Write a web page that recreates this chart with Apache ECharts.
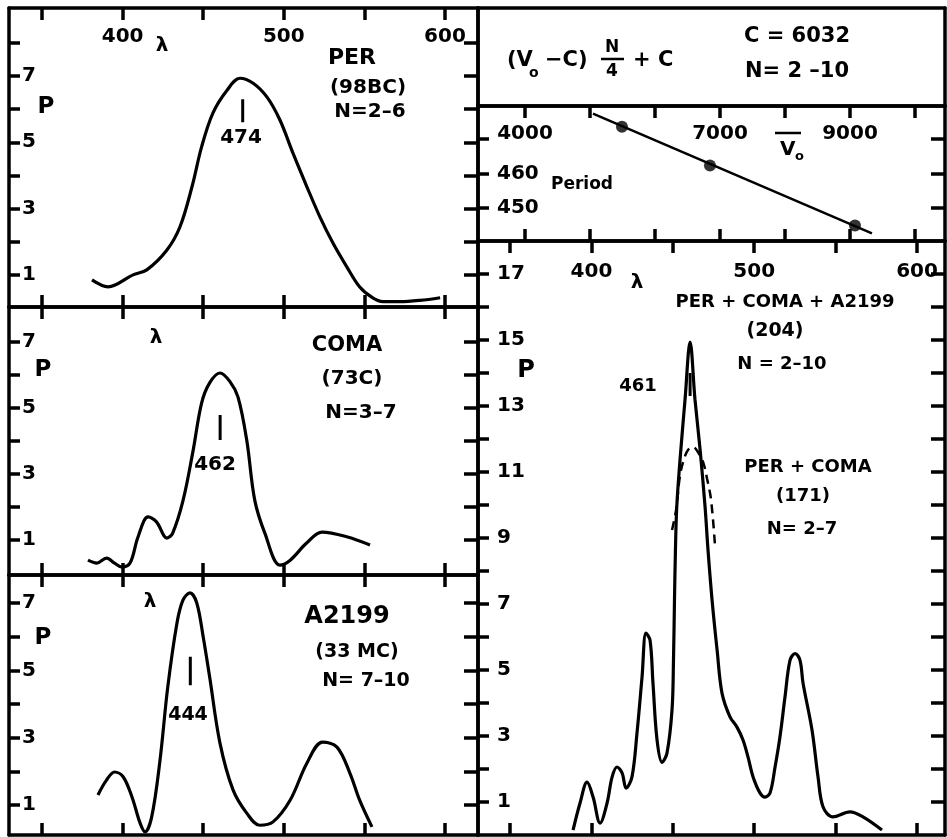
<!DOCTYPE html>
<html>
<head>
<meta charset="utf-8">
<script src="https://cdn.jsdelivr.net/npm/echarts@6/dist/echarts.min.js"></script>
<style>
  html, body { margin: 0; padding: 0; background: #fff; }
  #chart { width: 947px; height: 837px; }
</style>
</head>
<body>
<div id="chart"></div>
<script>
// ==== values ====
// PER (98BC), N=2-6
var perLambda = [381, 391, 406.5, 415, 427.5, 435.6, 443, 449, 456, 464.8, 472.8, 481, 489.6, 497.6, 505.7, 514.4, 522.4, 530.5, 539, 547, 555, 561.5, 572, 584.5, 597];
var perP = [0.85, 0.64, 1.0, 1.15, 1.75, 2.45, 3.65, 4.86, 5.88, 6.57, 6.93, 6.78, 6.36, 5.67, 4.67, 3.65, 2.75, 1.96, 1.25, 0.64, 0.31, 0.19, 0.19, 0.23, 0.31];
// COMA (73C), N=3-7
var comaLambda = [378.5, 384, 390, 395, 399.6, 404.6, 409.6, 415.8, 421, 427.5, 431, 437.5, 443.7, 449, 454, 460.4, 466.6, 471.6, 477, 482, 488.3, 497.6, 504, 514, 523.7, 539, 553.5];
var comaP = [0.39, 0.3, 0.45, 0.3, 0.18, 0.3, 1.1, 1.7, 1.55, 1.06, 1.2, 2.2, 3.7, 5.15, 5.76, 6.06, 5.8, 5.33, 4.03, 2.2, 1.2, 0.24, 0.39, 0.9, 1.24, 1.1, 0.85];
// A2199 (33 MC), N=7-10
var a2199Lambda = [384.7, 390, 395, 400.3, 405.8, 410.8, 413.9, 418, 423, 428, 433.7, 437.5, 441.8, 446, 450, 454, 460.4, 468.5, 477, 485, 493.3, 504, 514.4, 524, 533, 541, 547, 554.7];
var a2199P = [1.3, 1.74, 1.98, 1.84, 1.24, 0.47, 0.2, 0.64, 2.25, 4.5, 6.4, 7.09, 7.3, 7.0, 5.99, 4.8, 2.84, 1.45, 0.76, 0.4, 0.5, 1.15, 2.25, 2.87, 2.72, 1.95, 1.15, 0.35];
// PER + COMA + A2199 (204), N=2-10
var sumLambda = [388.7, 393, 397.3, 401, 405.3, 409.6, 412.7, 415.7, 418.8, 421.3, 424.9, 428, 431.1, 433.5, 436, 437.8, 440.3, 443.4, 446.4, 449.5, 450.4, 451, 451.6, 452.4, 454.4, 457.5, 460.6, 463.6, 466.7, 469.8, 471.6, 474.1, 477.2, 480.2, 485.1, 489.4, 493.1, 496.2, 499.3, 503.6, 506.6, 509.7, 512.8, 515.8, 518.9, 522, 525.1, 528.1, 530, 535.5, 539.2, 542.3, 548.4, 558.8, 566.8, 578.5];
var sumP = [0.15, 0.97, 1.6, 1.15, 0.36, 0.97, 1.76, 2.06, 1.88, 1.42, 1.76, 3.1, 4.8, 6.12, 5.9, 4.6, 2.88, 2.2, 2.48, 3.79, 5.3, 7.1, 8.64, 9.94, 11.36, 13.2, 14.94, 13.2, 11.7, 9.94, 8.64, 7.12, 5.6, 4.3, 3.58, 3.27, 2.88, 2.36, 1.76, 1.27, 1.15, 1.27, 2.06, 2.97, 4.18, 5.3, 5.5, 5.3, 4.6, 3.18, 1.76, 0.85, 0.55, 0.7, 0.55, 0.15];
// PER + COMA (171), N=2-7, dashed
var perComaLambda = [449.5, 452, 454.4, 456.9, 459.3, 462.4, 465.5, 468.6, 471, 473.5, 476];
var perComaP = [9.24, 9.85, 10.9, 11.4, 11.67, 11.76, 11.6, 11.3, 10.8, 10.15, 8.7];

// peak markers
var peakText = ['474', '462', '444', '461'];
var peakLambda = [474.5, 460.5, 442, 460.6];
var peakLow = [5.6, 4.03, 4.56, 13.3];
var peakHigh = [6.3, 4.79, 5.4, 14.0];

// period against mean velocity
var v0Points = [5492, 6846, 9077];
var periodPoints = [473.6, 462.3, 444.9];
var fitV0 = [5046, 9338];
var fitPeriod = [477.4, 442.6];

// ticks and tick labels
var lambdaTicks = [350, 400, 450, 500, 550, 600];
var lambdaLabels = [400, 500, 600];
var pTicksPer = [1, 2, 3, 4, 5, 6, 7, 8];
var pTicks = [1, 2, 3, 4, 5, 6, 7];
var pLabels = [1, 3, 5, 7];
var sumTicks = [1, 2, 3, 4, 5, 6, 7, 8, 9, 10, 11, 12, 13, 14, 15, 16, 17];
var sumLabels = [1, 3, 5, 7, 9, 11, 13, 15, 17];
var v0Ticks = [4000, 5000, 6000, 7000, 8000, 9000, 10000];
var v0Labels = [4000, 7000, 9000];
var periodTicks = [450, 460, 470];
var periodLabels = [450, 460];

var FONT = 'DejaVu Sans';
var chart = echarts.init(document.getElementById('chart'), null, { renderer: 'canvas' });

var grids = [
  { left: 9, top: 8, width: 469, height: 299 },     // PER
  { left: 9, top: 307, width: 469, height: 268 },   // COMA
  { left: 9, top: 575, width: 469, height: 260 },   // A2199
  { left: 478, top: 8, width: 467, height: 98 },    // formula box
  { left: 478, top: 106, width: 467, height: 135 }, // V0 - period
  { left: 478, top: 241, width: 467, height: 594 }  // sums
];

var xAxes = [], yAxes = [];
function axisLine() {
  return { show: true, onZero: false, lineStyle: { color: '#000', width: 3.5 } };
}
function ticks(values, len) {
  if (!values) return { show: false };
  return { show: true, inside: true, length: len, customValues: values, lineStyle: { color: '#000', width: 3.5 } };
}
function labels(values, margin) {
  if (!values) return { show: false };
  return {
    show: true, inside: true, margin: margin, customValues: values,
    color: '#000', fontFamily: FONT, fontWeight: 'bold', fontSize: 20,
    formatter: function (v) { return String(v); }
  };
}
// each panel: xAxis 2g bottom, 2g+1 top; yAxis 2g left, 2g+1 right
function panel(g, xr, yr, xt, yt, o) {
  o = o || {};
  var base = { type: 'value', gridIndex: g, min: xr[0], max: xr[1], splitLine: { show: false } };
  xAxes.push(Object.assign({}, base, { position: 'bottom', axisLine: axisLine(), axisTick: ticks(xt, 12), axisLabel: { show: false } }));
  xAxes.push(Object.assign({}, base, { position: 'top', axisLine: axisLine(), axisTick: ticks(xt, 12), axisLabel: labels(o.xl, o.xm) }));
  var ybase = { type: 'value', gridIndex: g, min: yr[0], max: yr[1], splitLine: { show: false } };
  yAxes.push(Object.assign({}, ybase, { position: 'left', axisLine: axisLine(), axisTick: ticks(yt, 11), axisLabel: labels(o.yl, o.ym) }));
  yAxes.push(Object.assign({}, ybase, { position: 'right', axisLine: axisLine(), axisTick: ticks(yt, 14), axisLabel: { show: false } }));
}

panel(0, [329.5, 620.5], [0.03, 9.05], lambdaTicks, pTicksPer, { xl: lambdaLabels, xm: 19, yl: pLabels, ym: 13 });
panel(1, [329.5, 620.5], [-0.06, 8.06], lambdaTicks, pTicks, { yl: pLabels, ym: 13 });
panel(2, [329.5, 620.5], [0.11, 7.83], lambdaTicks, pTicks, { yl: pLabels, ym: 13 });
panel(3, [0, 1], [0, 1], null, null);
panel(4, [3277, 10462], [440.4, 479.6], v0Ticks, periodTicks, { xl: v0Labels, xm: 18, yl: periodLabels, ym: 19 });
panel(5, [330.3, 617.2], [0, 18], lambdaTicks, sumTicks, { xl: lambdaLabels, xm: 21, yl: sumLabels, ym: 19 });

function zip(a, b) { return a.map(function (v, i) { return [v, b[i]]; }); }
function curve(g, xs, ys, dashed) {
  return {
    type: 'line', xAxisIndex: 2 * g, yAxisIndex: 2 * g, data: zip(xs, ys),
    symbol: 'none', smooth: 0.35, silent: true, z: 3,
    lineStyle: { color: '#000', width: dashed ? 2.5 : 3.2, type: dashed ? [9, 6] : 'solid' }
  };
}

var series = [
  curve(0, perLambda, perP),
  curve(1, comaLambda, comaP),
  curve(2, a2199Lambda, a2199P),
  curve(5, sumLambda, sumP),
  curve(5, perComaLambda, perComaP, true),
  {
    type: 'line', xAxisIndex: 8, yAxisIndex: 8, data: zip(fitV0, fitPeriod),
    symbol: 'none', silent: true, lineStyle: { color: '#000', width: 2.5 }
  },
  {
    type: 'scatter', xAxisIndex: 8, yAxisIndex: 8, data: zip(v0Points, periodPoints),
    symbol: 'circle', symbolSize: 12, silent: true, itemStyle: { color: '#000' }
  }
];
var peakGrid = [0, 1, 2, 5];
peakGrid.forEach(function (g, i) {
  series.push({
    type: 'line', xAxisIndex: 2 * g, yAxisIndex: 2 * g,
    data: [[peakLambda[i], peakLow[i]], [peakLambda[i], peakHigh[i]]],
    symbol: 'none', silent: true, lineStyle: { color: '#000', width: 3 }
  });
});

function txt(x, y, s, size, align) {
  return {
    type: 'text', x: x, y: y, silent: true, z: 10,
    style: { text: s, fontSize: size, fontFamily: FONT, fontWeight: 'bold', fill: '#000',
      align: align || 'center', verticalAlign: 'middle', textAlign: align || 'center', textVerticalAlign: 'middle' }
  };
}
function bar(x1, x2, y) {
  return { type: 'line', silent: true, z: 10, shape: { x1: x1, y1: y, x2: x2, y2: y }, style: { stroke: '#000', lineWidth: 2.5 } };
}

var graphics = [
  // PER panel
  txt(162, 46, 'λ', 20), txt(46, 107, 'P', 23),
  txt(352, 58, 'PER', 22), txt(368, 88, '(98BC)', 20), txt(370, 112, 'N=2–6', 20),
  txt(241, 138, peakText[0], 20),
  // COMA panel
  txt(156, 338, 'λ', 20), txt(43, 370, 'P', 23),
  txt(347, 346, 'COMA', 21), txt(352, 379, '(73C)', 20), txt(361, 413, 'N=3–7', 20),
  txt(215, 465, peakText[1], 20),
  // A2199 panel
  txt(150, 602, 'λ', 20), txt(43, 638, 'P', 23),
  txt(347, 617, 'A2199', 24), txt(357, 652, '(33 MC)', 19), txt(366, 681, 'N= 7–10', 19),
  txt(188, 715, peakText[2], 19),
  // formula box
  txt(507, 61, '(V', 21, 'left'), txt(529, 73, 'o', 14, 'left'), txt(545, 61, '−C)', 21, 'left'),
  bar(601, 624, 59), txt(612, 48, 'N', 17), txt(612, 72, '4', 17),
  txt(633, 61, '+ C', 21, 'left'),
  txt(797, 37, 'C = 6032', 21), txt(797, 72, 'N= 2 –10', 21),
  // V0 panel
  txt(582, 185, 'Period', 17),
  bar(775, 801, 133), txt(780, 150, 'V', 20, 'left'), txt(795, 157, 'o', 13, 'left'),
  // sum panel
  txt(637, 283, 'λ', 20), txt(526, 371, 'P', 24),
  txt(785, 302, 'PER + COMA + A2199', 18), txt(775, 331, '(204)', 19), txt(782, 364, 'N = 2–10', 18),
  txt(808, 467, 'PER + COMA', 18), txt(803, 496, '(171)', 18), txt(802, 529, 'N= 2–7', 18),
  txt(638, 386, peakText[3], 18)
];

chart.setOption({
  animation: false,
  backgroundColor: '#fff',
  grid: grids,
  xAxis: xAxes,
  yAxis: yAxes,
  series: series,
  graphic: graphics
});
</script>
</body>
</html>
